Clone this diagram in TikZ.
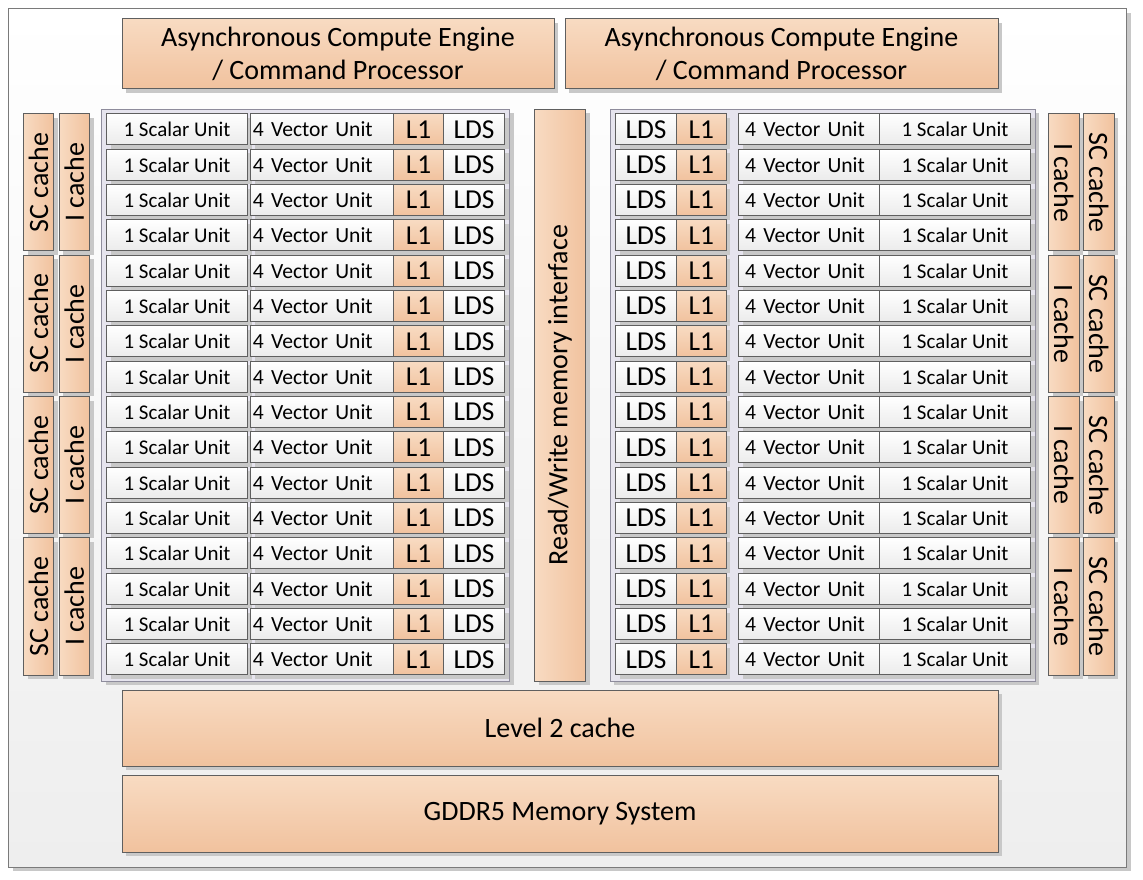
\documentclass[tikz,border=0pt]{standalone}
\usepackage{fontspec}
\usepackage{graphicx}
\setmainfont{Carlito}
\usetikzlibrary{shadows}
\definecolor{orT}{HTML}{F8DBC2}
\definecolor{orB}{HTML}{F1C29E}
\definecolor{edgeC}{HTML}{5F5F5F}
\definecolor{shdC}{HTML}{C8C8C8}
\definecolor{panelF}{HTML}{E6E4EE}
\definecolor{panelE}{HTML}{8E8C9C}
\definecolor{wB}{HTML}{EBEBEB}
\definecolor{frameB}{HTML}{EEEEEE}
\definecolor{frameE}{HTML}{7A7A7A}
\tikzset{
  base/.style={draw=edgeC, line width=0.75pt, inner sep=1.5pt, outer sep=0pt,
    drop shadow={shadow xshift=3pt, shadow yshift=-3pt, fill=shdC, opacity=1}},
  orbox/.style={base, top color=orT, bottom color=orB},
  orvbox/.style={base, left color=orT, right color=orB, inner sep=0pt},
  wbox/.style={base, top color=white, bottom color=wB},
  panelbox/.style={base, draw=panelE, fill=panelF},
  framebox/.style={base, draw=frameE, top color=white, bottom color=frameB},
  bigtxt/.style={font=\fontsize{21}{24.8}\selectfont},
  ldstxt/.style={font=\fontsize{20.5}{24}\selectfont},
  sctxt/.style={font=\fontsize{15.7}{18}\selectfont},
  vectxt/.style={font=\fontsize{16.2}{19}\selectfont},
}
% name, x1, y1, x2, y2, style, text
\newcommand\bx[7]{\node[#6, minimum width={(#4-#2)*0.75pt}, minimum height={(#5-#3)*0.75pt}] (#1) at ({(#2+#4)/2},{(#3+#5)/2}) {#7};}
\begin{document}
\begin{tikzpicture}[x=0.75pt, y=-0.75pt]
\useasboundingbox (0,0) rectangle (1143,880);
\bx{frame}{8.5}{9}{1126.5}{867}{framebox}{}
% command processors
\bx{aceL}{122}{19}{554}{89}{orbox, bigtxt, align=center}{Asynchronous Compute Engine\\/ Command Processor}
\bx{aceR}{565}{19}{998}{89}{orbox, bigtxt, align=center}{Asynchronous Compute Engine\\/ Command Processor}
% panels
\bx{panL}{101.5}{109.5}{509.5}{681}{panelbox}{}
\bx{panR}{610}{109.5}{1035}{681}{panelbox}{}
\bx{rw}{534.5}{109.5}{585.5}{681}{orvbox, bigtxt}{\rotatebox{90}{Read/Write memory interface}}
% rows
\foreach \i in {0,...,15}{
  \pgfmathsetmacro\t{114+35.333*\i}
  \pgfmathsetmacro\b{\t+31}
  \bx{ls\i}{106.5}{\t}{247.5}{\b}{wbox, sctxt}{1 Scalar Unit}
  \bx{lv\i}{251}{\t}{393.5}{\b}{wbox, vectxt, text width=103.9pt, align=left}{4 Vector Unit}
  \bx{ll\i}{393.5}{\t}{443.5}{\b}{orbox, ldstxt}{L1}
  \bx{ld\i}{443.5}{\t}{504.5}{\b}{wbox, ldstxt}{LDS}
  \bx{rd\i}{615.5}{\t}{676.5}{\b}{wbox, ldstxt}{LDS}
  \bx{rl\i}{676.5}{\t}{726}{\b}{orbox, ldstxt}{L1}
  \bx{rv\i}{738.5}{\t}{879.5}{\b}{wbox, vectxt, inner xsep=5pt, text width=95.75pt, align=left}{4 Vector Unit}
  \bx{rs\i}{879.5}{\t}{1030.5}{\b}{wbox, sctxt}{1 Scalar Unit}
}
% caches
\foreach \g in {0,...,3}{
  \pgfmathsetmacro\t{114+141.333*\g}
  \pgfmathsetmacro\b{\t+137}
  \bx{lsc\g}{23.5}{\t}{53.5}{\b}{orvbox, bigtxt}{\rotatebox{90}{SC cache}}
  \bx{lic\g}{59}{\t}{89.5}{\b}{orvbox, bigtxt}{\rotatebox{90}{I cache}}
  \bx{ric\g}{1048.5}{\t}{1079}{\b}{orvbox, bigtxt}{\rotatebox{-90}{I cache}}
  \bx{rsc\g}{1083.5}{\t}{1114}{\b}{orvbox, bigtxt}{\rotatebox{-90}{SC cache}}
}
% memory
\bx{l2}{122}{690}{998}{766}{orbox, bigtxt}{Level 2 cache}
\bx{gddr}{122}{775.5}{998}{852}{orbox, bigtxt}{GDDR5 Memory System}
\end{tikzpicture}
\end{document}
